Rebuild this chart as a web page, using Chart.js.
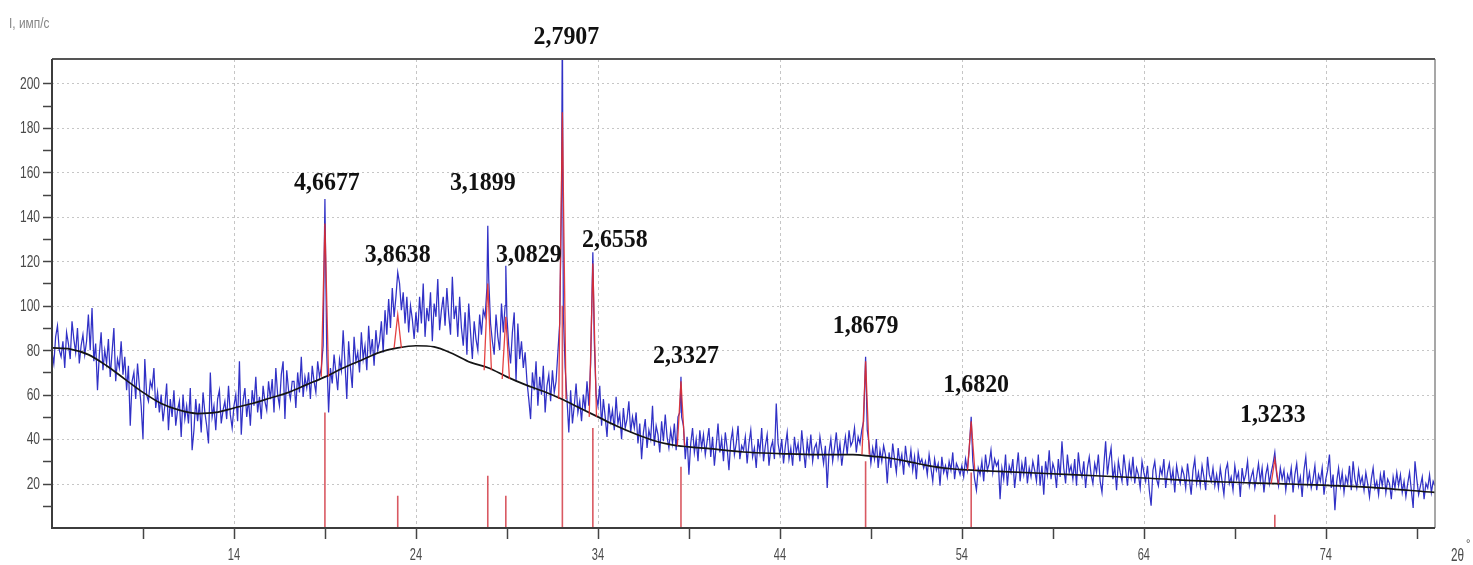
<!DOCTYPE html>
<html>
<head>
<meta charset="utf-8">
<script src="https://cdn.jsdelivr.net/npm/chart.js@4.4.1/dist/chart.umd.min.js"></script>
<style>
  body { margin: 0; background: #fff; }
  canvas { display: block; }
</style>
</head>
<body>
<canvas id="xrdChart" width="1473" height="565"></canvas>
<script>
// Scan: 2θ from 4° to 80°, step 0.1°, one row = 2°
const scanStart = 4;
const scanStep = 0.1;
const counts = [
  79, 74, 86, 91, 80, 77, 84, 72, 88, 83, 76, 93, 85, 79, 90, 74, 82, 87, 78, 84,   // 4
  96, 80, 99, 75, 83, 62, 78, 88, 71, 80, 74, 85, 68, 79, 90, 66, 76, 72, 84, 69,   // 6
  77, 62, 73, 46, 66, 70, 58, 74, 64, 55, 40, 76, 60, 57, 66, 63, 72, 54, 61, 52,   // 8
  60, 48, 55, 65, 44, 58, 50, 62, 46, 53, 57, 41, 60, 49, 55, 47, 63, 35, 44, 58,   // 10
  48, 56, 43, 61, 52, 46, 38, 70, 50, 55, 44, 58, 62, 47, 53, 57, 49, 64, 51, 45,   // 12
  55, 60, 48, 75, 42, 57, 63, 50, 58, 46, 62, 55, 68, 52, 59, 49, 64, 57, 53, 66,   // 14
  58, 67, 52, 72, 60, 55, 69, 75, 49, 71, 62, 58, 66, 66, 54, 70, 61, 77, 59, 68,   // 16
  63, 70, 58, 73, 66, 61, 75, 68, 72, 82, 140, 78, 52, 72, 65, 78, 70, 62, 76, 71,  // 18
  89, 74, 58, 84, 72, 63, 86, 75, 79, 70, 88, 76, 82, 71, 91, 78, 85, 73, 89, 80,   // 20
  84, 93, 79, 98, 87, 103, 90, 108, 95, 104, 115, 110, 98, 106, 92, 104, 88, 100, 94, 85, // 22
  97, 88, 104, 92, 110, 86, 99, 93, 106, 84, 101, 95, 112, 89, 98, 104, 91, 108, 96, 87,  // 24
  113, 94, 100, 86, 104, 90, 82, 97, 78, 101, 88, 76, 93, 85, 80, 96, 87, 98, 95, 108,    // 26
  112, 92, 84, 78, 96, 86, 80, 101, 88, 100, 95, 82, 74, 88, 97, 66, 92, 76, 84, 72,      // 28
  79, 66, 58, 49, 70, 62, 75, 55, 68, 60, 73, 52, 64, 69, 57, 71, 61, 66, 79, 92,   // 30
  150, 96, 72, 58, 43, 62, 47, 55, 65, 52, 57, 48, 60, 53, 66, 55, 74, 120, 84, 60, // 32
  55, 64, 46, 58, 50, 41, 56, 48, 53, 44, 59, 47, 51, 40, 54, 45, 49, 57, 43, 50,   // 34
  45, 52, 38, 47, 31, 43, 49, 36, 44, 40, 55, 37, 46, 42, 34, 48, 39, 51, 41, 36,   // 36
  44, 38, 47, 35, 50, 52, 50, 46, 31, 41, 24, 38, 45, 34, 40, 30, 44, 36, 42, 33,   // 38
  39, 45, 32, 41, 28, 37, 47, 34, 40, 30, 43, 36, 26, 39, 44, 33, 38, 46, 31, 37,   // 40
  35, 41, 29, 38, 44, 32, 36, 27, 40, 34, 45, 30, 37, 42, 28, 36, 39, 31, 56, 38,   // 42
  33, 40, 29, 37, 43, 31, 36, 28, 41, 34, 38, 30, 44, 35, 27, 39, 33, 42, 30, 36,   // 44
  38, 31, 41, 35, 29, 37, 18, 34, 40, 30, 36, 43, 32, 38, 28, 35, 41, 33, 44, 37,   // 46
  39, 45, 34, 41, 38, 44, 48, 77, 44, 38, 29, 36, 31, 40, 27, 35, 30, 37, 33, 20,   // 48
  34, 27, 38, 31, 25, 36, 29, 33, 24, 37, 30, 28, 35, 26, 32, 22, 34, 29, 31, 27,   // 50
  30, 24, 33, 27, 21, 31, 26, 29, 19, 32, 25, 28, 23, 30, 26, 34, 22, 29, 27, 24,   // 52
  28, 23, 31, 26, 35, 50, 30, 22, 17, 27, 24, 30, 21, 33, 26, 29, 35, 25, 31, 28,   // 54
  30, 13, 27, 22, 33, 19, 28, 25, 31, 18, 26, 34, 21, 29, 24, 32, 20, 27, 23, 30,   // 56
  26, 21, 33, 19, 28, 15, 30, 24, 35, 22, 29, 26, 18, 31, 23, 39, 27, 20, 33, 25,   // 58
  28, 22, 31, 19, 34, 26, 23, 30, 18, 27, 32, 24, 20, 29, 25, 33, 21, 16, 28, 39,   // 60
  24, 31, 36, 22, 28, 17, 30, 25, 21, 33, 26, 19, 29, 23, 32, 20, 27, 24, 18, 30,   // 62
  25, 21, 28, 17, 10, 26, 30, 22, 19, 27, 24, 31, 18, 25, 29, 21, 26, 16, 28, 23,   // 64
  20, 27, 24, 18, 29, 22, 15, 26, 31, 20, 25, 19, 28, 23, 17, 32, 24, 21, 27, 19,   // 66
  24, 18, 27, 21, 15, 26, 29, 20, 23, 17, 28, 22, 25, 14, 27, 21, 24, 30, 19, 23,   // 68
  26, 18, 23, 29, 21, 27, 16, 24, 28, 20, 25, 29, 34, 24, 19, 27, 22, 26, 17, 24,   // 70
  21, 27, 16, 24, 29, 19, 23, 14, 26, 32, 20, 25, 18, 22, 28, 17, 24, 21, 27, 15,   // 72
  22, 26, 33, 18, 24, 8, 21, 27, 19, 25, 16, 23, 20, 28, 17, 30, 22, 18, 26, 20,    // 74
  23, 17, 25, 20, 14, 22, 27, 18, 21, 15, 24, 19, 26, 16, 22, 20, 13, 23, 18, 25,   // 76
  19, 24, 16, 21, 14, 20, 25, 17, 9, 30, 22, 15, 19, 23, 13, 20, 18, 24, 16, 21,    // 78
  19
];

// Background (amorphous halo) under the pattern
const backgroundTheta  = [4, 5, 6, 7, 8, 9, 10, 11, 12, 13, 14, 15, 16, 17, 18, 19, 20, 21, 22, 23, 24, 25, 26, 27, 28, 29, 30, 31, 32, 33, 34, 35, 36, 37, 38, 39, 40, 42, 44, 46, 48, 49, 50, 51, 52, 53, 54, 56, 60, 64, 68, 72, 76, 80];
const backgroundCounts = [81, 80.5, 78, 73, 67, 61, 56, 53, 51.5, 52, 54, 56, 58.5, 61, 64.5, 68, 72, 75.5, 79, 81, 82, 81.5, 78.5, 74.5, 72, 68, 64.5, 61.5, 58, 54, 50, 46, 42.5, 39.5, 37.5, 36.5, 35.8, 34.2, 33.5, 33, 33, 32.3, 31.5, 30, 28.3, 27, 26.3, 25.5, 24, 22.5, 20.8, 19.8, 18.5, 16];

// Indexed reflections: interplanar spacing d (Å), observed top, fitted top, fitted base, reference line
const peakD       = [4.6677, 3.8638, 3.1899, 3.0829, 2.7907, 2.6558, 2.3327, 1.8679, 1.6820, 1.3233];
const peakCounts  = [148, 115, 136, 118, 230, 124, 68, 77, 50, 34];
const fitCounts   = [137, 96, 110, 95, 187, 119, 66, 75, 48, 31];
const fitBase     = [68, 81, 71, 67, 58, 50, 37, 33, 26, 20];
const stickCounts = [52, 14.5, 23.5, 14.5, 100, 45, 27.5, 30, 25, 6];

// Axis ticks
const xMajorTicks = [14, 24, 34, 44, 54, 64, 74];
const xMinorTicks = [9, 19, 29, 39, 49, 59, 69, 79];
const yMajorTicks = [20, 40, 60, 80, 100, 120, 140, 160, 180, 200];
const yMinorTicks = [10, 30, 50, 70, 90, 110, 130, 150, 170, 190];

const yTitle = 'I, имп/с';
const xTitle = '2θ';

// Cu Kα
const wavelength = 1.5406;
const braggAngle = d => 2 * Math.asin(wavelength / (2 * d)) * 180 / Math.PI;
const peakTheta = peakD.map(braggAngle);

// label offsets from the peak top, px
const labelShift = [[2, -16], [0, -17], [-5, -42], [23, -10], [4, -22], [22, -12], [5, -21], [0, -31], [5, -32], [-2, -37]];

// measured pattern with the peak maxima at their Bragg angles
let pattern = counts.map((c, i) => ({ x: +(scanStart + i * scanStep).toFixed(1), y: c }))
  .filter(p => !peakTheta.some(t => Math.abs(t - p.x) < 0.03));
peakTheta.forEach((t, i) => pattern.push({ x: t, y: peakCounts[i] }));
pattern.sort((a, b) => a.x - b.x);

const background = backgroundTheta.map((t, i) => ({ x: t, y: backgroundCounts[i] }));

const fitHalfWidth = 0.2;
const fitted = [];
peakTheta.forEach((t, i) => {
  fitted.push({ x: t - fitHalfWidth, y: fitBase[i] }, { x: t, y: fitCounts[i] },
              { x: t + fitHalfWidth, y: fitBase[i] }, { x: t + fitHalfWidth, y: null });
});

const sticks = [];
peakTheta.forEach((t, i) => {
  sticks.push({ x: t, y: 0 }, { x: t, y: stickCounts[i] }, { x: t, y: null });
});

function compressedText(ctx, text, x, y, sx, align, baseline) {
  ctx.save();
  ctx.translate(x, y);
  ctx.scale(sx, 1);
  ctx.textAlign = align;
  ctx.textBaseline = baseline;
  ctx.fillText(text, 0, 0);
  ctx.restore();
}

const axesDecor = {
  id: 'axesDecor',
  beforeDatasetsDraw(chart) {
    const { ctx, chartArea: a, scales: { x, y } } = chart;
    ctx.save();
    ctx.strokeStyle = '#c6c6c6';
    ctx.lineWidth = 1;
    ctx.setLineDash([2, 3]);
    yMajorTicks.forEach(v => {
      const py = Math.round(y.getPixelForValue(v)) + 0.5;
      ctx.beginPath(); ctx.moveTo(a.left, py); ctx.lineTo(a.right, py); ctx.stroke();
    });
    ctx.setLineDash([3, 3]);
    xMajorTicks.forEach(v => {
      const px = Math.round(x.getPixelForValue(v)) + 0.5;
      ctx.beginPath(); ctx.moveTo(px, a.top); ctx.lineTo(px, a.bottom); ctx.stroke();
    });
    ctx.restore();
  },
  afterDraw(chart) {
    const { ctx, chartArea: a, scales: { x, y } } = chart;
    ctx.save();
    // frame
    ctx.setLineDash([]);
    ctx.strokeStyle = '#8a8a8a';
    ctx.lineWidth = 1.5;
    ctx.beginPath(); ctx.moveTo(a.right, a.top); ctx.lineTo(a.right, a.bottom); ctx.stroke();
    ctx.strokeStyle = '#555';
    ctx.lineWidth = 2;
    ctx.beginPath(); ctx.moveTo(a.left, a.top); ctx.lineTo(a.right, a.top); ctx.stroke();
    ctx.strokeStyle = '#3c3c3c';
    ctx.beginPath();
    ctx.moveTo(a.left, a.top); ctx.lineTo(a.left, a.bottom); ctx.lineTo(a.right, a.bottom);
    ctx.stroke();

    // tick marks
    ctx.lineWidth = 1.5;
    ctx.strokeStyle = '#444';
    [...yMajorTicks, ...yMinorTicks].forEach(v => {
      const py = Math.round(y.getPixelForValue(v)) + 0.5;
      ctx.beginPath(); ctx.moveTo(a.left - 9, py); ctx.lineTo(a.left, py); ctx.stroke();
    });
    [...xMajorTicks, ...xMinorTicks].forEach(v => {
      const px = Math.round(x.getPixelForValue(v)) + 0.5;
      ctx.beginPath(); ctx.moveTo(px, a.bottom); ctx.lineTo(px, a.bottom + 11); ctx.stroke();
    });

    // tick labels
    ctx.fillStyle = '#4a4a4a';
    ctx.font = '16px "Liberation Sans", Arial, sans-serif';
    yMajorTicks.forEach(v => compressedText(ctx, String(v), a.left - 12, y.getPixelForValue(v) + 1, 0.75, 'right', 'middle'));
    ctx.font = '17px "Liberation Sans", Arial, sans-serif';
    xMajorTicks.forEach(v => compressedText(ctx, String(v), x.getPixelForValue(v), a.bottom + 27, 0.65, 'center', 'middle'));

    // axis titles
    ctx.font = '18px "Liberation Sans", Arial, sans-serif';
    compressedText(ctx, xTitle, 1451, 556, 0.65, 'left', 'middle');
    ctx.font = '11px "Liberation Sans", Arial, sans-serif';
    ctx.fillText('°', 1466, 547);
    ctx.fillStyle = '#858585';
    ctx.font = '14px "Liberation Sans", Arial, sans-serif';
    compressedText(ctx, yTitle, 9, 24, 0.85, 'left', 'middle');

    // d-spacing labels
    ctx.fillStyle = '#111';
    ctx.font = 'bold 26px "Liberation Serif", "Times New Roman", serif';
    peakTheta.forEach((t, i) => {
      const px = x.getPixelForValue(t);
      const top = Math.max(y.getPixelForValue(peakCounts[i]), a.top);
      const label = peakD[i].toFixed(4).replace('.', ',');
      compressedText(ctx, label, px + labelShift[i][0], top + labelShift[i][1], 0.92, 'center', 'middle');
    });
    ctx.restore();
  }
};

new Chart(document.getElementById('xrdChart'), {
  type: 'line',
  data: {
    datasets: [
      { data: fitted, borderColor: 'rgba(225, 45, 45, 0.9)', borderWidth: 1.3, pointRadius: 0, spanGaps: false, order: 1 },
      { data: background, borderColor: '#151515', borderWidth: 1.7, pointRadius: 0, cubicInterpolationMode: 'monotone', order: 2 },
      { data: sticks, borderColor: 'rgba(210, 60, 70, 0.85)', borderWidth: 1.6, pointRadius: 0, spanGaps: false, order: 3 },
      { data: pattern, borderColor: 'rgba(20, 20, 190, 0.88)', borderWidth: 1.25, pointRadius: 0, order: 4 }
    ]
  },
  options: {
    responsive: false,
    animation: false,
    events: [],
    layout: { padding: { left: 52, top: 59, right: 38, bottom: 37 } },
    plugins: { legend: { display: false }, tooltip: { enabled: false } },
    scales: {
      x: { type: 'linear', min: 4, max: 80, display: false },
      y: { type: 'linear', min: 0, max: 211, display: false }
    }
  },
  plugins: [axesDecor]
});
</script>
</body>
</html>
